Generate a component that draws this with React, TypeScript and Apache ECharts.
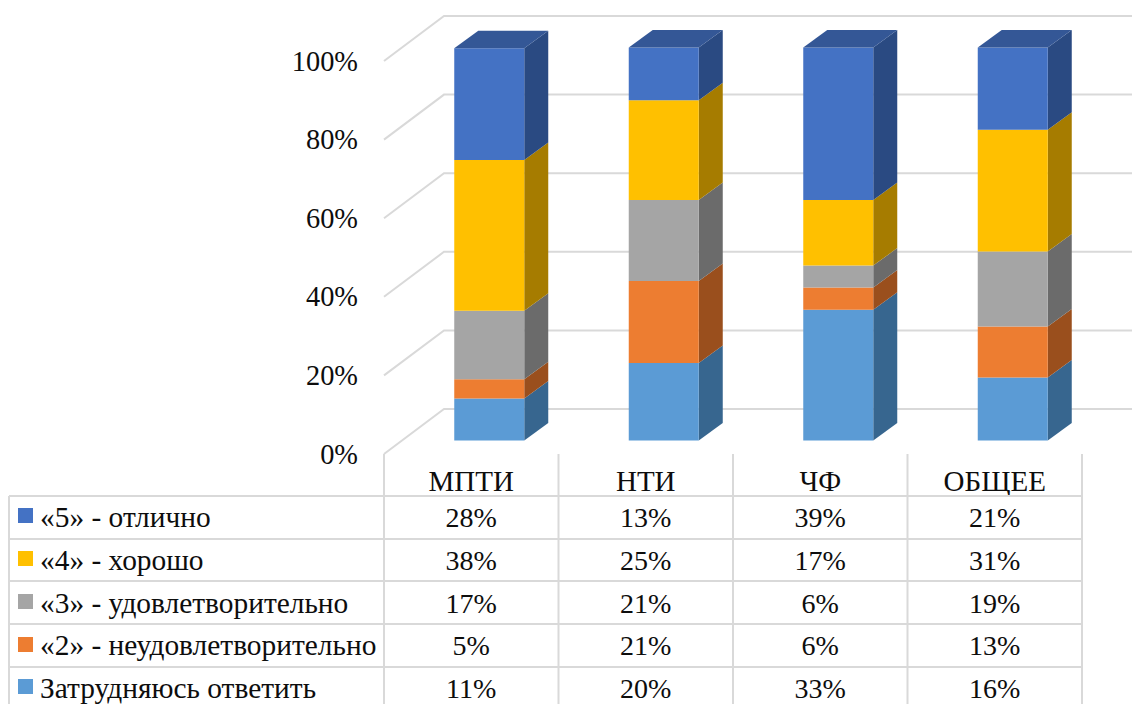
import React, { useEffect, useRef } from "react";
import * as echarts from "echarts";

const categories = ["МПТИ", "НТИ", "ЧФ", "ОБЩЕЕ"];
const seriesNames = [
  "Затрудняюсь ответить",
  "«2» - неудовлетворительно",
  "«3» - удовлетворительно",
  "«4» - хорошо",
  "«5» - отлично",
];
const valuesUnsure = [10.7, 19.7, 33.3, 16.0];
const valuesTwo = [4.9, 20.9, 5.6, 13.0];
const valuesThree = [17.4, 20.6, 5.6, 19.1];
const valuesFour = [38.4, 25.4, 16.7, 31.0];
const valuesFive = [28.4, 13.4, 38.8, 20.9];
const yTicks = [0, 20, 40, 60, 80, 100];

const stackValues = [valuesUnsure, valuesTwo, valuesThree, valuesFour, valuesFive];
const frontColors = ["#5B9BD5", "#ED7D31", "#A5A5A5", "#FFC000", "#4472C4"];
const sideColors = ["#37668F", "#9A4F1D", "#6B6B6B", "#A67C00", "#2A4A82"];
const topColor = "#345796";

const FONT = '"Liberation Serif", "Times New Roman", serif';
const FS_LEGEND = 29.4;
const FS_HEAD = 29;
const FS_AXIS = 28.4;
const FS_CELL = 28;
const TEXT = "#0d0d0d";
const LINE = "#d9d9d9";

const WALL_DX = 60;
const WALL_DY = -45;
const BAR_W = 70;
const BAR_OFF_X = 18;
const BAR_OFF_Y = -13.5;
const BAR_DX = 24;
const BAR_DY = -17.5;

const GRID_L = 384;
const GRID_R = 1082;
const GRID_T = 61;
const GRID_B = 454;
const TABLE_L = 9;
const ROW_LINES = [496, 539, 581, 624, 667];
const ROW_CENTERS = [517, 560, 603, 645, 688];
const KEY_TOPS = [508, 551, 594, 637, 679];

export default function App() {
  const ref = useRef<HTMLDivElement>(null);
  useEffect(() => {
    const chart = echarts.init(ref.current!, undefined, { renderer: "svg" });

    const barSeries = stackValues.map((vals, s) => ({
      type: "custom" as const,
      name: seriesNames[s],
      z: 5 + s,
      clip: false,
      encode: { x: 0, y: [1, 2] },
      data: vals.map((v, i) => {
        let base = 0;
        for (let k = 0; k < s; k++) base += stackValues[k][i];
        return [i, base, base + v];
      }),
      renderItem: (_p: any, api: any) => {
        const i = api.value(0);
        const lo = api.coord([i, api.value(1)]);
        const hi = api.coord([i, api.value(2)]);
        const x0 = lo[0] - BAR_W / 2 + BAR_OFF_X;
        const x1 = x0 + BAR_W;
        const yb = lo[1] + BAR_OFF_Y;
        const yt = hi[1] + BAR_OFF_Y;
        const children: any[] = [
          {
            type: "polygon",
            shape: { points: [[x1, yb], [x1 + BAR_DX, yb + BAR_DY], [x1 + BAR_DX, yt + BAR_DY], [x1, yt]] },
            style: { fill: sideColors[s] },
          },
          {
            type: "polygon",
            shape: { points: [[x0, yb], [x1, yb], [x1, yt], [x0, yt]] },
            style: { fill: frontColors[s] },
          },
        ];
        if (s === stackValues.length - 1) {
          children.push({
            type: "polygon",
            shape: { points: [[x0, yt], [x1, yt], [x1 + BAR_DX, yt + BAR_DY], [x0 + BAR_DX, yt + BAR_DY]] },
            style: { fill: topColor },
          });
        }
        return { type: "group", children };
      },
    }));

    const wallSeries = {
      type: "custom" as const,
      z: 1,
      clip: false,
      silent: true,
      encode: { x: 0, y: 1 },
      data: yTicks.map((t) => [0, t]),
      renderItem: (params: any, api: any) => {
        const c = api.coord([0, api.value(1)]);
        const x = params.coordSys.x;
        const y = c[1];
        return {
          type: "polyline",
          shape: {
            points: [[x, y], [x + WALL_DX, y + WALL_DY], [x + params.coordSys.width + WALL_DX, y + WALL_DY]],
          },
          style: { stroke: LINE, lineWidth: 2, fill: "none" },
        };
      },
    };

    const graphics: any[] = [];
    const addLine = (x1: number, y1: number, x2: number, y2: number) =>
      graphics.push({ type: "line", shape: { x1, y1, x2, y2 }, style: { stroke: LINE, lineWidth: 2 }, z: 1 });
    const colW = (GRID_R - GRID_L) / categories.length;
    for (let c = 0; c <= categories.length; c++) {
      const x = GRID_L + c * colW;
      addLine(x, GRID_B, x, 704);
    }
    addLine(TABLE_L, ROW_LINES[0], TABLE_L, 704);
    ROW_LINES.forEach((y) => addLine(TABLE_L, y, GRID_R, y));

    for (let r = 0; r < seriesNames.length; r++) {
      const s = seriesNames.length - 1 - r;
      graphics.push({
        type: "rect",
        shape: { x: 18, y: KEY_TOPS[r], width: 15, height: 15 },
        style: { fill: frontColors[s] },
        z: 2,
      });
      graphics.push({
        type: "text",
        x: 40,
        y: ROW_CENTERS[r],
        style: { text: seriesNames[s], font: `${FS_LEGEND}px ${FONT}`, fill: TEXT, textAlign: "left", textVerticalAlign: "middle" },
        z: 2,
      });
      categories.forEach((_, i) => {
        graphics.push({
          type: "text",
          x: GRID_L + (i + 0.5) * colW,
          y: ROW_CENTERS[r],
          style: {
            text: `${Math.round(stackValues[s][i])}%`,
            font: `${FS_CELL}px ${FONT}`,
            fill: TEXT,
            textAlign: "center",
            textVerticalAlign: "middle",
          },
          z: 2,
        });
      });
    }

    chart.setOption({
      animation: false,
      backgroundColor: "#ffffff",
      grid: { left: GRID_L, top: GRID_T, width: GRID_R - GRID_L, height: GRID_B - GRID_T, containLabel: false },
      xAxis: {
        type: "category",
        data: categories,
        axisLine: { show: false },
        axisTick: { show: false },
        splitLine: { show: false },
        axisLabel: { fontFamily: FONT, fontSize: FS_HEAD, color: TEXT, margin: 12, interval: 0 },
      },
      yAxis: {
        type: "value",
        min: 0,
        max: 100,
        interval: 20,
        axisLine: { show: false },
        axisTick: { show: false },
        splitLine: { show: false },
        axisLabel: { fontFamily: FONT, fontSize: FS_AXIS, color: TEXT, margin: 26, padding: [0, 0, 2, 0], formatter: "{value}%" },
      },
      graphic: graphics,
      series: [wallSeries, ...barSeries],
    });
    return () => chart.dispose();
  }, []);
  return <div ref={ref} style={{ position: "absolute", left: 0, top: 0, width: 1132, height: 704 }} />;
}
